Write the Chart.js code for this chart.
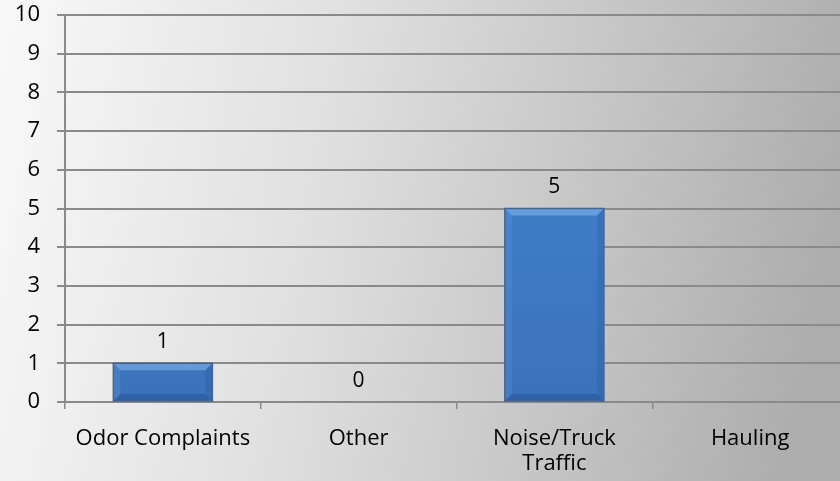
<!DOCTYPE html>
<html>
<head>
<meta charset="utf-8">
<script src="https://cdn.jsdelivr.net/npm/chart.js@4/dist/chart.umd.min.js"></script>
<style>
  html, body { margin: 0; padding: 0; overflow: hidden; width: 840px; height: 481px; }
  #wrap { width: 848px; height: 481px; position: relative; }
</style>
</head>
<body>
<div id="wrap"><canvas id="c"></canvas></div>
<script>
const categories = ['Odor Complaints', 'Other', ['Noise/Truck', 'Traffic'], 'Hauling'];
const values = [1, 0, 5, null];
const yTicks = [0, 1, 2, 3, 4, 5, 6, 7, 8, 9, 10];

const FONT = '"Open Sans", "Liberation Sans", sans-serif';

const bgPlugin = {
  id: 'bg',
  beforeDraw(chart) {
    const { ctx, width, height } = chart;
    const g = ctx.createLinearGradient(0, 0, width, height * 0.35);
    g.addColorStop(0, '#f9f9f9');
    g.addColorStop(0.4, '#e0e0e0');
    g.addColorStop(1, '#adadad');
    ctx.save();
    ctx.fillStyle = g;
    ctx.fillRect(0, 0, width, height);
    ctx.restore();
  }
};

const labelPlugin = {
  id: 'vals',
  afterDatasetsDraw(chart) {
    const { ctx } = chart;
    const meta = chart.getDatasetMeta(0);
    ctx.save();
    ctx.font = '21px ' + FONT;
    ctx.fillStyle = '#000';
    ctx.textAlign = 'center';
    ctx.textBaseline = 'middle';
    meta.data.forEach((bar, i) => {
      const v = values[i];
      if (v === null || v === undefined) return;
      ctx.fillText(String(v), bar.x, bar.y - 21);
    });
    ctx.restore();
  }
};

const bevelPlugin = {
  id: 'bevel',
  afterDatasetsDraw(chart) {
    const { ctx } = chart;
    const meta = chart.getDatasetMeta(0);
    ctx.save();
    meta.data.forEach((bar, i) => {
      const v = values[i];
      if (!v) return;
      const l = bar.x - bar.width / 2, r = bar.x + bar.width / 2;
      const t = bar.y, b = bar.base;
      const d = 7;
      ctx.fillStyle = 'rgba(150,200,250,0.45)';
      ctx.beginPath();
      ctx.moveTo(l, t); ctx.lineTo(r, t); ctx.lineTo(r - d, t + d); ctx.lineTo(l + d, t + d); ctx.closePath(); ctx.fill();
      ctx.fillStyle = 'rgba(120,170,230,0.18)';
      ctx.beginPath();
      ctx.moveTo(l, t); ctx.lineTo(l + d, t + d); ctx.lineTo(l + d, b - d); ctx.lineTo(l, b); ctx.closePath(); ctx.fill();
      ctx.fillStyle = 'rgba(30,70,130,0.18)';
      ctx.beginPath();
      ctx.moveTo(r, t); ctx.lineTo(r - d, t + d); ctx.lineTo(r - d, b - d); ctx.lineTo(r, b); ctx.closePath(); ctx.fill();
      ctx.fillStyle = 'rgba(25,60,115,0.3)';
      ctx.beginPath();
      ctx.moveTo(l, b); ctx.lineTo(l + d, b - d); ctx.lineTo(r - d, b - d); ctx.lineTo(r, b); ctx.closePath(); ctx.fill();
      ctx.strokeStyle = '#46658c';
      ctx.lineWidth = 1.5;
      ctx.strokeRect(l, t, r - l, b - t);
    });
    ctx.restore();
  }
};

new Chart(document.getElementById('c'), {
  type: 'bar',
  data: {
    labels: categories,
    datasets: [{
      data: values,
      backgroundColor: (c) => {
        const ch = c.chart;
        const area = ch.chartArea;
        if (!area) return '#3f7fcf';
        const g = ch.ctx.createLinearGradient(0, area.top, 0, area.bottom);
        g.addColorStop(0, '#4586d6');
        g.addColorStop(1, '#3b72ba');
        return g;
      },
      borderWidth: 0,
      barPercentage: 0.506,
      categoryPercentage: 1.0
    }]
  },
  options: {
    responsive: true,
    maintainAspectRatio: false,
    animation: false,
    devicePixelRatio: 1,
    layout: { padding: { top: 15, left: 0, right: 0, bottom: 0 } },
    plugins: { legend: { display: false }, tooltip: { enabled: false } },
    scales: {
      x: {
        grid: { display: true, drawOnChartArea: false, drawTicks: true, tickLength: 7, color: '#8a8a8a', lineWidth: 1.5, offset: true },
        border: { display: false },
        ticks: { color: '#000', font: { size: 22, family: FONT, lineHeight: 1.15 }, padding: 17, maxRotation: 0, autoSkip: false },
        afterFit(s) { s.height = 79; s.paddingLeft = 0; s.paddingRight = 0; }
      },
      y: {
        min: 0, max: 10,
        afterBuildTicks(s) { s.ticks = yTicks.map(v => ({ value: v })); },
        grid: { color: '#8a8a8a', lineWidth: 2, tickLength: 8 },
        border: { display: true, color: '#8a8a8a', width: 2 },
        ticks: { color: '#000', font: { size: 22, family: FONT }, padding: 17, stepSize: 1 },
        afterFit(s) { s.width = 65; s.paddingTop = 0; s.paddingBottom = 0; }
      }
    }
  },
  plugins: [bgPlugin, labelPlugin, bevelPlugin]
});
</script>
</body>
</html>
